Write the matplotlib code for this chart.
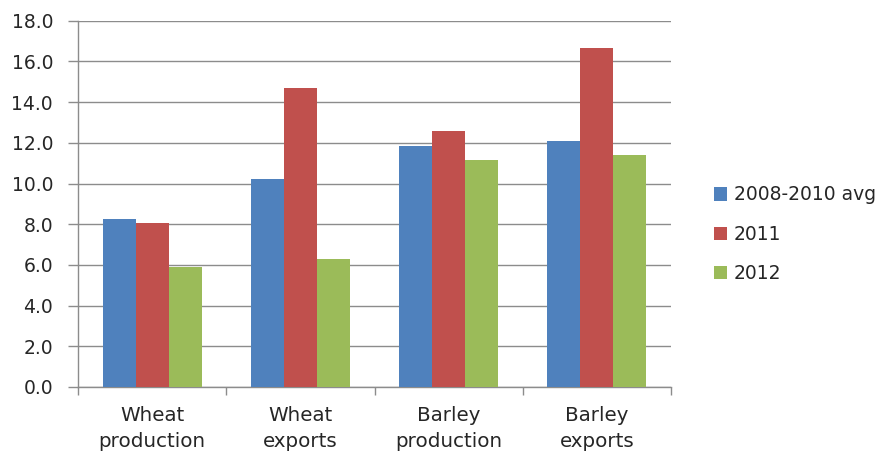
import matplotlib
matplotlib.use("Agg")
import matplotlib.pyplot as plt
import numpy as np

categories = ["Wheat\nproduction", "Wheat\nexports", "Barley\nproduction", "Barley\nexports"]
series_names = ["2008-2010 avg", "2011", "2012"]
avg_2008_2010 = [8.26, 10.21, 11.86, 12.11]
y2011 = [8.04, 14.69, 12.58, 16.66]
y2012 = [5.88, 6.29, 11.14, 11.39]
y_ticks = [0, 2, 4, 6, 8, 10, 12, 14, 16, 18]

colors = ["#4F81BD", "#C0504D", "#9BBB59"]
plt.rcParams["font.family"] = ["DejaVu Sans"]
text_color = "#262626"
fs = 13.5

fig = plt.figure(figsize=(8.86, 4.53), dpi=100)
ax = fig.add_axes([78 / 886, 1 - 387 / 453, (671 - 78) / 886, (387 - 20.7) / 453])

x = np.arange(len(categories))
bar_w = 1 / 4.5
for i, (vals, name, c) in enumerate(zip([avg_2008_2010, y2011, y2012], series_names, colors)):
    ax.bar(x + (i - 1) * bar_w, vals, width=bar_w, color=c, label=name,
           edgecolor="none", zorder=3)

ax.set_xlim(-0.5, len(categories) - 0.5)
ax.set_ylim(0, 18)
ax.set_yticks(y_ticks)
ax.set_yticklabels([f"{v:.1f}" for v in y_ticks], fontsize=fs, color=text_color)
ax.yaxis.grid(True, color="#8C8C8C", linewidth=1.0, zorder=0)
ax.set_axisbelow(True)

ax.set_xticks(x)
ax.set_xticklabels(categories, fontsize=14.3, color=text_color, linespacing=1.45)
ax.tick_params(axis="x", length=0, pad=14)
ax.set_xticks(np.arange(len(categories) + 1) - 0.5, minor=True)
ax.tick_params(axis="x", which="minor", length=6, color="#8C8C8C", width=1)
ax.tick_params(axis="y", length=7, color="#8C8C8C", width=1, pad=11)

for side in ["top", "right"]:
    ax.spines[side].set_visible(False)
for side in ["left", "bottom"]:
    ax.spines[side].set_color("#8C8C8C")
    ax.spines[side].set_linewidth(1)

leg = fig.legend(loc="upper left", bbox_to_anchor=(706 / 886, 1 - 178 / 453),
                 frameon=False, fontsize=fs, handlelength=0.72, handleheight=0.72,
                 handletextpad=0.35, labelspacing=1.08, borderaxespad=0)
for t in leg.get_texts():
    t.set_color(text_color)

fig.savefig("out.png", dpi=100)
